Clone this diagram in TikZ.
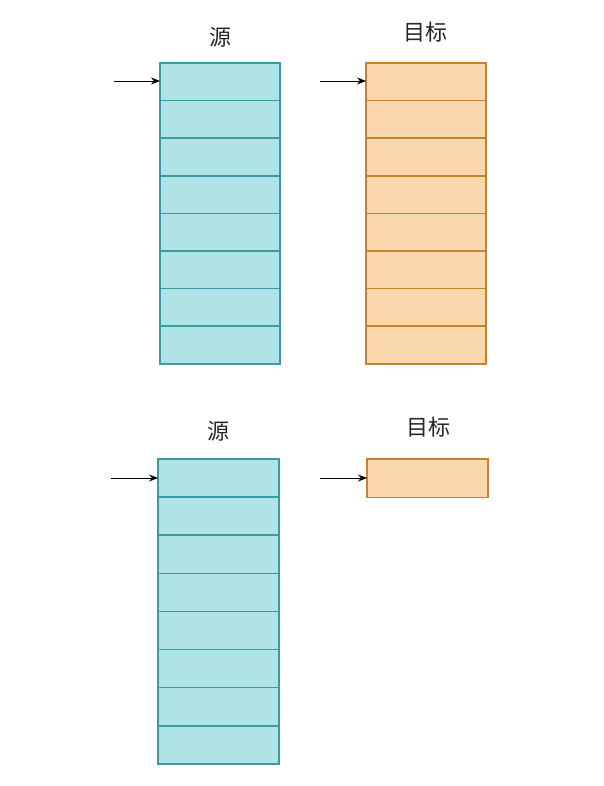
\documentclass[tikz,border=0pt]{standalone}
\usepackage{fontspec}
\newfontfamily\cjk{Noto Sans CJK SC}
\usetikzlibrary{arrows.meta}
\definecolor{cfill}{HTML}{B0E3E6}
\definecolor{cline}{HTML}{3A9CA2}
\definecolor{ofill}{HTML}{FAD7AC}
\definecolor{oline}{HTML}{C8822E}
\begin{document}
\begin{tikzpicture}[x=1pt,y=-1pt,
  srccell/.style={fill=cfill,minimum width=120pt,minimum height=37.6pt,inner sep=0pt,outer sep=0pt,anchor=north west},
  dstcell/.style={fill=ofill,minimum width=120pt,minimum height=37.6pt,inner sep=0pt,outer sep=0pt,anchor=north west},
  srcedge/.style={draw=cline,line width=1.6pt},
  dstedge/.style={draw=oline,line width=1.6pt},
  lbl/.style={font=\cjk\fontsize{22}{26}\selectfont,text=black!85,inner sep=0pt},
  ptr/.style={-{Stealth[length=9pt,width=7pt]},line width=0.9pt,black}]
\useasboundingbox (0,0) rectangle (603,786);
% top
\node[lbl] (t1) at (220,37) {源};
\node[lbl] (t2) at (425,32) {目标};
\foreach \i in {0,...,7}{
  \node[srccell] (a\i) at (160,{63+\i*37.6}) {};
  \node[dstcell] (b\i) at (366,{63+\i*37.6}) {};
}
\draw[srcedge] (a0.north west) rectangle (a7.south east);
\draw[dstedge] (b0.north west) rectangle (b7.south east);
\foreach \i in {1,...,7}{
  \draw[srcedge] (a\i.north west) -- (a\i.north east);
  \draw[dstedge] (b\i.north west) -- (b\i.north east);
}
\coordinate (pa) at (114,81);
\coordinate (pb) at (320,81);
\draw[ptr] (pa) -- (a0.west |- pa);
\draw[ptr] (pb) -- (b0.west |- pb);
% bottom
\node[lbl] (t3) at (218,431) {源};
\node[lbl] (t4) at (428,427) {目标};
\foreach \i in {0,...,7}{
  \node[srccell,minimum width=121pt,minimum height=38.1pt] (c\i) at (158,{459+\i*38.1}) {};
}
\draw[srcedge] (c0.north west) rectangle (c7.south east);
\foreach \i in {1,...,7}{
  \draw[srcedge] (c\i.north west) -- (c\i.north east);
}
\node[dstcell,minimum width=121pt,minimum height=38.5pt] (d0) at (367,459) {};
\draw[dstedge] (d0.north west) rectangle (d0.south east);
\coordinate (pc) at (111,478);
\coordinate (pd) at (320,478);
\draw[ptr] (pc) -- (c0.west |- pc);
\draw[ptr] (pd) -- (d0.west |- pd);
\end{tikzpicture}
\end{document}
